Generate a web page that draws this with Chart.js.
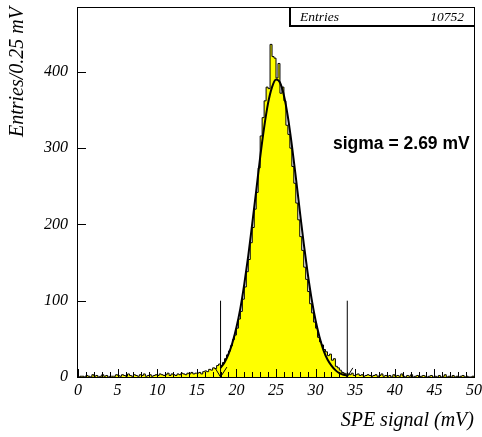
<!DOCTYPE html>
<html>
<head>
<meta charset="utf-8">
<script src="https://cdn.jsdelivr.net/npm/chart.js@4.4.1/dist/chart.umd.min.js"></script>
<style>
  html, body { margin: 0; padding: 0; background: #fff; }
</style>
</head>
<body>
<canvas id="spe" width="482" height="437"></canvas>
<script>
// SPE amplitude spectrum, 0.25 mV bins from 0 to 50 mV (200 bins)
const binWidth = 0.25
const counts = [
  0, 1, 1, 0, 2, 1, 0, 3, 1, 2,
  0, 1, 3, 1, 2, 0, 1, 1, 1, 3,
  2, 1, 3, 2, 1, 4, 2, 1, 3, 2,
  1, 3, 2, 4, 1, 2, 3, 1, 2, 3,
  2, 4, 3, 2, 3, 5, 2, 4, 3, 2,
  4, 3, 5, 4, 3, 5, 4, 6, 4, 5,
  5, 6, 4, 7, 8, 7, 10, 9, 12, 11, 15, 17,
  15, 19, 24, 29, 34, 41, 49, 55, 64, 76,
  86, 102, 118, 138, 154, 176, 196, 220, 242, 274,
  316, 340, 362, 380, 378, 436, 420, 418, 392, 411, 372, 380, 362, 330, 318,
  300, 276, 254, 228, 206, 184, 166, 144, 128, 112, 96, 84, 72, 64, 52, 46,
  42, 36, 33, 28, 30, 22, 24, 14, 12, 9, 6, 5, 4,
  4, 3, 5, 2, 3, 4, 2, 3, 1, 2,
  3, 2, 1, 2, 3, 1, 2, 4, 1, 2,
  1, 2, 0, 3, 1, 2, 1, 4, 1, 0,
  2, 1, 3, 0, 1, 2, 0, 1, 2, 1,
  0, 1, 2, 0, 1, 0, 2, 0, 1, 3,
  0, 1, 0, 2, 0, 1, 0, 1, 2, 0,
  1, 0, 0, 1
]

// gaussian fit over 18-34 mV
const fitSigma = 2.69
const fitX = [18, 18.5, 19, 19.5, 20, 20.5, 21, 21.5, 22, 22.5, 23, 23.5, 24, 24.5, 25, 25.5,
  26, 26.5, 27, 27.5, 28, 28.5, 29, 29.5, 30, 30.5, 31, 31.5, 32, 32.5, 33, 33.5, 34]
const fitY = [12, 19, 30, 45, 65, 90, 122, 159, 201, 244, 288, 327, 359, 380, 390, 386,
  369, 341, 304, 262, 218, 175, 136, 102, 74, 52, 35, 23, 15, 9, 5, 3, 2]

// fit range markers
const rangeLimits = [18, 34]
const rangeMarkHeight = 100
const lowArmX = [17.3, 18, 18.8]
const lowArmY = [12, 0, 13]
const highArmX = [33.4, 34, 34.7]
const highArmY = [7, 0, 12]

const xMax = 50
const yMax = 485
const xTickLabels = [0, 5, 10, 15, 20, 25, 30, 35, 40, 45, 50]
const yTickLabels = [0, 100, 200, 300, 400]

const serif = "'Liberation Serif', 'Times New Roman', serif"
const sans = "'Liberation Sans', Arial, sans-serif"

const histPoints = [{ x: 0, y: 0 }]
counts.forEach((c, i) => histPoints.push({ x: i * binWidth, y: c }))
histPoints.push({ x: xMax, y: counts[counts.length - 1] })
histPoints.push({ x: xMax, y: 0 })

const fitPoints = fitX.map((x, i) => ({ x: x, y: fitY[i] }))
const pairs = (xs, ys) => xs.map((x, i) => ({ x: x, y: ys[i] }))

const lineStyle = {
  type: 'line',
  borderColor: '#000',
  borderWidth: 1,
  pointRadius: 0,
  fill: false,
  order: 1
}

// frame, inward tick marks, stats box and fit label
const decorations = {
  id: 'decorations',
  afterDatasetsDraw(chart) {
    const { ctx, chartArea: a, scales: { x, y } } = chart
    ctx.save()
    ctx.strokeStyle = '#000'
    ctx.lineWidth = 1

    ctx.beginPath()
    for (let v = 0; v <= xMax; v++) {
      const px = Math.round(x.getPixelForValue(v)) + 0.5
      const len = v % 5 === 0 ? 8 : 5
      ctx.moveTo(px, a.bottom)
      ctx.lineTo(px, a.bottom - len)
    }
    yTickLabels.forEach(v => {
      const py = Math.round(y.getPixelForValue(v)) + 0.5
      ctx.moveTo(a.left, py)
      ctx.lineTo(a.left + 8, py)
    })
    ctx.stroke()

    ctx.strokeRect(a.left - 0.5, a.top + 0.5, a.right - a.left + 1, a.bottom - a.top)

    // statistics box
    const bx = 289, bw = a.right - bx, by = a.top, bh = 18
    ctx.fillStyle = '#fff'
    ctx.fillRect(bx, by, bw, bh)
    ctx.strokeRect(bx + 0.5, by + 0.5, bw, bh)
    ctx.lineWidth = 2
    ctx.beginPath()
    ctx.moveTo(bx + 1, by)
    ctx.lineTo(bx + 1, by + bh + 1)
    ctx.lineTo(a.right, by + bh + 1)
    ctx.stroke()

    ctx.fillStyle = '#000'
    ctx.font = 'italic 13.5px ' + serif
    ctx.textBaseline = 'middle'
    ctx.textAlign = 'left'
    ctx.fillText('Entries', bx + 11, by + 10)
    ctx.textAlign = 'right'
    const entries = counts.reduce((s, c) => s + c, 0)
    ctx.fillText(String(entries), a.right - 10, by + 10)

    ctx.font = 'bold 17.5px ' + sans
    ctx.textAlign = 'left'
    ctx.fillText('sigma = ' + fitSigma.toFixed(2) + ' mV', x.getPixelForValue(32.2), y.getPixelForValue(305))
    ctx.restore()
  }
}

new Chart(document.getElementById('spe'), {
  type: 'line',
  data: {
    datasets: [
      {
        data: histPoints,
        stepped: 'before',
        borderColor: '#000',
        borderWidth: 1,
        backgroundColor: '#ffff00',
        fill: 'origin',
        pointRadius: 0,
        order: 3
      },
      Object.assign({}, lineStyle, {
        data: fitPoints,
        borderWidth: 2,
        cubicInterpolationMode: 'monotone'
      }),
      Object.assign({}, lineStyle, { data: [{ x: rangeLimits[0], y: 0 }, { x: rangeLimits[0], y: rangeMarkHeight }] }),
      Object.assign({}, lineStyle, { data: [{ x: rangeLimits[1], y: 0 }, { x: rangeLimits[1], y: rangeMarkHeight }] }),
      Object.assign({}, lineStyle, { data: pairs(lowArmX, lowArmY) }),
      Object.assign({}, lineStyle, { data: pairs(highArmX, highArmY) })
    ]
  },
  options: {
    responsive: false,
    animation: false,
    devicePixelRatio: 1,
    layout: { padding: { left: 0, right: 8, top: 7, bottom: 0 } },
    plugins: {
      legend: { display: false },
      tooltip: { enabled: false }
    },
    scales: {
      x: {
        type: 'linear',
        min: 0,
        max: xMax,
        afterFit: scale => {
          scale.height = 60
          scale.paddingLeft = 0
          scale.paddingRight = 0
        },
        afterBuildTicks: scale => { scale.ticks = xTickLabels.map(v => ({ value: v })) },
        grid: { display: false, drawTicks: false },
        border: { display: false },
        ticks: {
          autoSkip: false,
          maxRotation: 0,
          padding: 4,
          color: '#000',
          font: { family: serif, size: 16, style: 'italic' }
        },
        title: {
          display: true,
          text: 'SPE signal (mV)',
          align: 'end',
          color: '#000',
          padding: { top: 0, bottom: 4 },
          font: { family: serif, size: 20, style: 'italic' }
        }
      },
      y: {
        min: 0,
        max: yMax,
        afterFit: scale => {
          scale.width = 78
          scale.paddingTop = 0
          scale.paddingBottom = 0
        },
        afterBuildTicks: scale => { scale.ticks = yTickLabels.map(v => ({ value: v })) },
        grid: { display: false, drawTicks: false },
        border: { display: false },
        ticks: {
          padding: 10,
          color: '#000',
          font: { family: serif, size: 16, style: 'italic' }
        },
        title: {
          display: true,
          text: 'Entries/0.25 mV',
          align: 'end',
          color: '#000',
          padding: { top: 6, bottom: 0 },
          font: { family: serif, size: 20, style: 'italic' }
        }
      }
    }
  },
  plugins: [decorations]
})
</script>
</body>
</html>
